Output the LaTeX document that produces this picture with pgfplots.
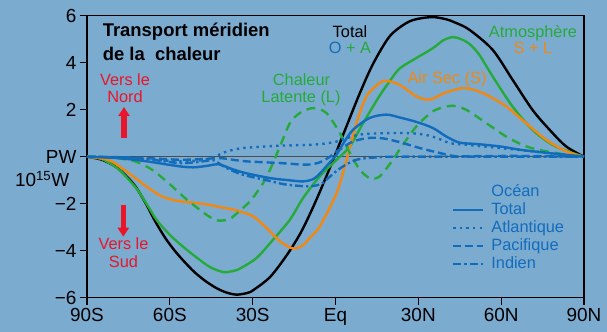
\documentclass[border=0pt]{standalone}
\usepackage{fontspec}
\setmainfont{Liberation Sans}
\usepackage{pgfplots}
\pgfplotsset{compat=1.18}
\usetikzlibrary{arrows.meta}
\definecolor{bg}{RGB}{124,171,208}
\definecolor{atmgreen}{RGB}{38,170,58}
\definecolor{airorange}{RGB}{242,136,16}
\definecolor{oceanblue}{RGB}{18,108,188}
\definecolor{nred}{RGB}{232,22,40}
\begin{document}
\begin{tikzpicture}
\fill[bg] (-87bp,-34.3bp) rectangle (520bp,297.7bp);
\useasboundingbox (-87bp,-34.3bp) rectangle (520bp,297.7bp);
\begin{axis}[
  at={(0,0)}, anchor=south west,
  scale only axis, width=497bp, height=282bp,
  xmin=-90, xmax=90, ymin=-6, ymax=6,
  xtick={-90,-60,-30,0,30,60,90},
  xticklabels={90S,60S,30S,Eq,30N,60N,90N},
  ytick={-6,-4,-2,0,2,4,6},
  yticklabels={−6,−4,−2,PW,2,4,6},
  tick align=outside, tick pos=left,
  major tick length=7bp,
  axis line style={line width=1.1bp, black},
  tick style={line width=1.1bp, black},
  tick label style={font=\fontsize{19}{22}\selectfont, text=black},
  clip=false,
  legend cell align=left,
  legend image code/.code={\draw[#1] (0bp,0bp) -- (30bp,0bp);},
  legend style={at={(rel axis cs:0.734,0.4085)}, anchor=north west,
    draw=none, fill=none, inner sep=0pt, row sep=0pt,
    font=\fontsize{16.4}{18}\selectfont,
    /tikz/every odd column/.append style={column sep=6bp},
    nodes={text=oceanblue, text height=12.5bp, text depth=3.6bp, inner sep=1bp}},
]
\addplot[forget plot, line width=1bp, color=black!70] coordinates {(-90,0) (90,0)};
% Total O+A
\addplot[forget plot, smooth, line width=2.4bp, black] coordinates {
(-90,0) (-84.6,-0.13) (-79.8,-0.41) (-76.2,-0.77) (-72.5,-1.26) (-68.9,-1.95) (-65.3,-2.75) (-61.7,-3.45) (-58.1,-4.02) (-54.5,-4.5) (-50.9,-4.93) (-47,-5.3) (-43,-5.6) (-39.5,-5.78) (-35.8,-5.87) (-32,-5.8) (-29.8,-5.68) (-23.7,-5.12) (-17.7,-4.2) (-12.9,-3.3) (-9.3,-2.45) (-5.7,-1.5) (-0.9,-0.15) (4.0,1.3) (8.8,2.7) (13.6,3.95) (19.6,5.12) (25.7,5.69) (30,5.87) (35.3,5.94) (40,5.85) (43.7,5.69) (48.5,5.4) (56.9,4.55) (64.1,3.28) (71.3,2.0) (77.5,1.15) (83.5,0.44) (90,0)};
% Atmosphere S+L
\addplot[forget plot, smooth, line width=2.4bp, atmgreen] coordinates {
(-90,0) (-84.6,-0.1) (-79,-0.49) (-75.4,-0.91) (-71.8,-1.4) (-68.2,-2.05) (-64.6,-2.72) (-59.8,-3.35) (-55,-3.85) (-50.2,-4.3) (-45.4,-4.7) (-40.6,-4.91) (-37,-4.86) (-34.6,-4.76) (-28.6,-4.31) (-22.6,-3.53) (-16.5,-2.68) (-11.7,-1.75) (-5.7,-0.84) (0.4,-0.13) (5.2,0.44) (10.0,1.43) (16.0,2.6) (19.6,3.2) (23.2,3.75) (29.3,4.2) (35.3,4.62) (39,4.95) (42.5,5.09) (45.5,5.0) (48.5,4.8) (52,4.35) (56.9,3.42) (64.1,2.14) (71.3,1.15) (78.5,0.51) (85.8,0.16) (90,0)};
% Air sec S
\addplot[forget plot, smooth, line width=2.4bp, airorange] coordinates {
(-90,0) (-83.4,-0.1) (-81,-0.2) (-77.3,-0.49) (-72.5,-0.91) (-67.7,-1.33) (-62.9,-1.69) (-58.1,-1.86) (-54.5,-1.92) (-47.2,-2.02) (-42,-2.14) (-37,-2.25) (-34.6,-2.33) (-29.8,-2.54) (-24.9,-3.04) (-20.1,-3.6) (-15.3,-3.91) (-11.7,-3.76) (-9.3,-3.45) (-5.7,-2.97) (0.4,-1.55) (4.0,-0.13) (7.6,1.43) (11.2,2.57) (16.0,3.14) (18.4,3.23) (23.2,3.06) (29.3,2.57) (34.1,2.43) (40.1,2.74) (46.1,2.92) (50,2.85) (54.6,2.64) (61.8,2.14) (69.0,1.43) (76.3,0.72) (83.5,0.23) (90,0)};
% Latent L
\addplot[forget plot, smooth, line width=2.4bp, atmgreen, dash pattern=on 9bp off 6bp] coordinates {
(-90,0) (-82,-0.02) (-78.6,-0.07) (-72.5,-0.2) (-66.5,-0.55) (-60.5,-1.12) (-54.5,-1.76) (-48.4,-2.33) (-45,-2.6) (-42.4,-2.72) (-39,-2.68) (-37,-2.54) (-31,-1.9) (-26.2,-1.12) (-23.7,-0.55) (-20.1,0.44) (-16.5,1.43) (-12.9,1.86) (-8.1,2.07) (-3.3,1.86) (1.6,1.0) (5.2,0.16) (8.8,-0.55) (12.4,-0.91) (16.0,-0.84) (20.8,-0.13) (23.2,0.3) (29.3,1.29) (35.3,1.93) (40.1,2.14) (42.5,2.17) (47.3,2.0) (54.6,1.43) (61.8,0.86) (69,0.44) (76.3,0.23) (83.5,0.09) (90,0)};
\addlegendimage{empty legend}
\addlegendentry{Océan}
% Ocean total
\addplot[smooth, line width=2.4bp, oceanblue] coordinates {
(-90,0) (-80,-0.05) (-70,-0.17) (-60.5,-0.34) (-55,-0.43) (-50.8,-0.45) (-46,-0.38) (-42.4,-0.32) (-37.6,-0.52) (-32.8,-0.69) (-23.7,-0.91) (-17,-1.0) (-11.7,-1.05) (-8,-0.95) (-5.7,-0.72) (-2.5,-0.3) (0.4,0.09) (3,0.6) (6.4,1.15) (12.4,1.65) (18.4,1.79) (23.2,1.67) (29.3,1.48) (35.3,1.22) (40.1,0.86) (44.9,0.6) (51,0.54) (59.4,0.44) (66.6,0.3) (73.8,0.2) (83.5,0.08) (90,0)};
\addlegendentry{Total}
% Atlantique
\addplot[smooth, line width=2.4bp, oceanblue, dash pattern=on 2.4bp off 4.2bp] coordinates {
(-90,0) (-80,-0.03) (-68.3,-0.1) (-56.3,-0.2) (-48,-0.14) (-44,-0.02) (-41,0.15) (-38.2,0.26) (-33.2,0.37) (-20.1,0.47) (-8.1,0.51) (-0.9,0.61) (3,0.75) (8.8,0.94) (17.2,1.0) (26.9,1.0) (33,0.92) (37.7,0.75) (41.3,0.58) (47.3,0.51) (59.4,0.37) (71.3,0.23) (80,0.12) (90,0)};
\addlegendentry{Atlantique}
% Pacifique
\addplot[smooth, line width=2.4bp, oceanblue, dash pattern=on 8bp off 4bp] coordinates {
(-90,0) (-75,-0.03) (-68.3,-0.06) (-56.3,-0.13) (-48,-0.1) (-41.8,-0.06) (-36,-0.15) (-32.2,-0.2) (-20.1,-0.27) (-10.5,-0.34) (-5.7,-0.24) (-2,0) (0.4,0.22) (6.4,0.65) (12.4,0.8) (17.2,0.78) (23.2,0.62) (30.5,0.37) (37.7,0.16) (43.7,0.02) (55,0.03) (70,0.03) (90,0)};
\addlegendentry{Pacifique}
% Indien
\addplot[smooth, line width=2.4bp, oceanblue, dash pattern=on 8bp off 3bp on 2.4bp off 3bp] coordinates {
(-90,0) (-75,-0.05) (-68.3,-0.1) (-56.3,-0.27) (-48,-0.2) (-44.2,-0.15) (-40,-0.45) (-34,-0.75) (-25,-1.0) (-17.7,-1.19) (-9.3,-1.26) (-5,-1.15) (-3.3,-0.98) (1.6,-0.5) (7.6,-0.13) (16,-0.02) (25,0) (90,0)};
\addlegendentry{Indien}
\end{axis}
% annotations
\node[anchor=base west, font=\fontsize{18.5}{22}\selectfont\bfseries] at (12.3bp,261bp) {Transport méridien};
\node[anchor=base west, font=\fontsize{18.5}{22}\selectfont\bfseries] at (12.3bp,237bp) {de la\ \ chaleur};
\node[anchor=base, text=nred, font=\fontsize{16.4}{18}\selectfont] at (38bp,211.7bp) {Vers le};
\node[anchor=base, text=nred, font=\fontsize{16.4}{18}\selectfont] at (38bp,195bp) {Nord};
\draw[nred, line width=5.5bp, -{Triangle[width=11bp,length=9bp]}] (37bp,159.7bp) -- (37bp,190.7bp);
\draw[nred, line width=5.5bp, -{Triangle[width=11bp,length=9bp]}] (36.3bp,92.7bp) -- (36.3bp,61bp);
\node[anchor=base, text=nred, font=\fontsize{16.4}{18}\selectfont] at (36.5bp,47.7bp) {Vers le};
\node[anchor=base, text=nred, font=\fontsize{16.4}{18}\selectfont] at (36.5bp,30.7bp) {Sud};
\node[anchor=base, text=atmgreen, font=\fontsize{16.4}{18}\selectfont] at (214.5bp,211.7bp) {Chaleur};
\node[anchor=base, text=atmgreen, font=\fontsize{16.4}{18}\selectfont] at (214bp,195.2bp) {Latente (L)};
\node[anchor=base, text=black, font=\fontsize{16.4}{18}\selectfont] at (263bp,260.4bp) {Total};
\node[anchor=base, font=\fontsize{16.4}{18}\selectfont] at (263bp,243.7bp) {\textcolor{oceanblue}{O} \textcolor{atmgreen}{+ A}};
\node[anchor=base, text=atmgreen, font=\fontsize{16.4}{18}\selectfont] at (446bp,260.4bp) {Atmosphère};
\node[anchor=base, text=airorange, font=\fontsize{16.4}{18}\selectfont] at (446bp,243.7bp) {S + L};
\node[anchor=base, text=airorange, font=\fontsize{16.4}{18}\selectfont] at (360bp,214.4bp) {Air Sec (S)};
\node[anchor=base east, font=\fontsize{19}{22}\selectfont] at (-14.3bp,110.7bp) {10\textsuperscript{15}W};
\end{tikzpicture}
\end{document}
